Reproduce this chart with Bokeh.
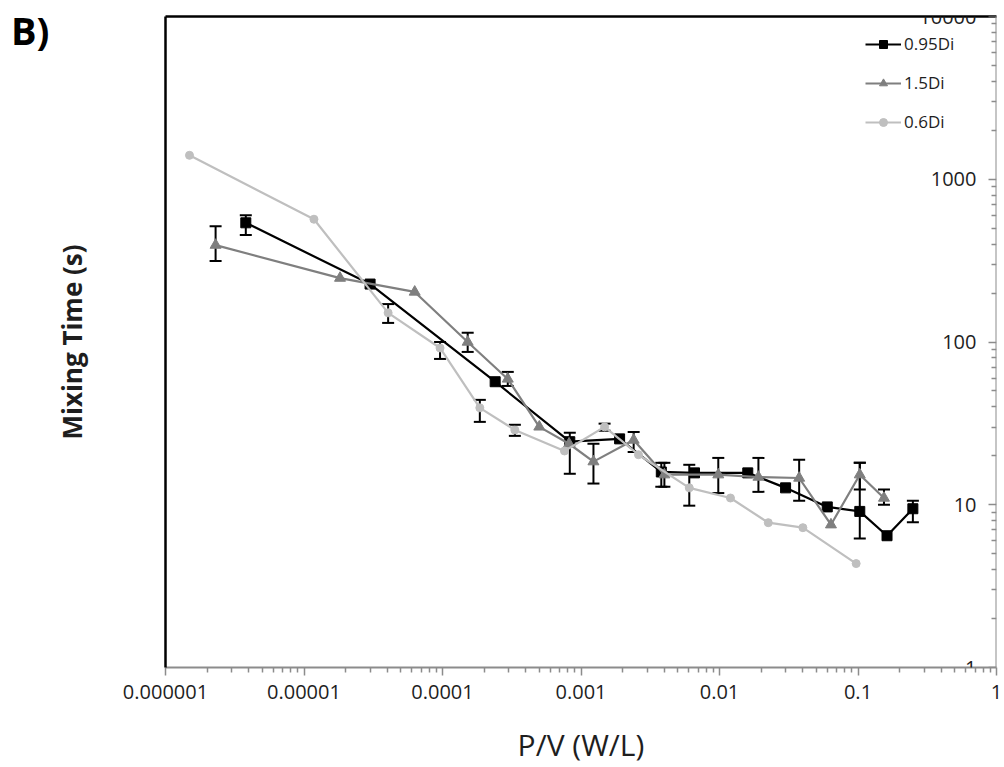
from bokeh.plotting import figure
from bokeh.models import (LogAxis, FixedTicker, CustomJSTickFormatter, ColumnDataSource,
                          Whisker, TeeHead, Legend, LegendItem, Range1d, Div)
from bokeh.layouts import row
from bokeh.embed import file_html
from bokeh.resources import INLINE

# ---------------- data ----------------
x_ticks = [1e-6, 1e-5, 1e-4, 1e-3, 1e-2, 1e-1, 1.0]
x_tick_labels = ["0.000001", "0.00001", "0.0001", "0.001", "0.01", "0.1", "1"]
y_ticks = [1, 10, 100, 1000, 10000]
y_tick_labels = ["1", "10", "100", "1000", "10000"]

series_names = ["0.95Di", "1.5Di", "0.6Di"]

x_095 = [3.8e-6, 3.0e-5, 2.4e-4, 8.3e-4, 1.9e-3, 3.8e-3, 6.6e-3, 0.016, 0.030, 0.060, 0.103, 0.162, 0.249]
y_095 = [540, 227, 57, 24.4, 25.4, 15.9, 15.7, 15.7, 12.7, 9.7, 9.1, 6.45, 9.45]
lo_095 = [455, None, None, 15.5, None, 12.9, None, None, None, None, 6.2, None, 7.8]
hi_095 = [600, None, None, 27.7, None, 18.1, None, None, None, None, 18.1, None, 10.6]

x_15 = [2.3e-6, 1.82e-5, 6.3e-5, 1.52e-4, 2.96e-4, 5.0e-4, 8.2e-4, 1.23e-3, 2.4e-3, 4.0e-3,
        9.8e-3, 0.0191, 0.0376, 0.0638, 0.103, 0.154]
y_15 = [394, 247, 203, 100, 59.3, 30.1, 23.7, 18.4, 25.0, 15.3, 15.3, 14.8, 14.6, 7.54, 15.3, 11.0]
lo_15 = [314, None, None, 86.9, 53.7, None, None, 13.5, 21.1, 12.9, 11.8, 12.0, 10.6, None, 12.4, 10.0]
hi_15 = [515, None, None, 114, 65.5, None, None, 23.7, 28.0, 18.1, 19.4, 19.4, 18.9, None, 18.1, 12.4]

x_06 = [1.49e-6, 1.18e-5, 4.05e-5, 9.6e-5, 1.86e-4, 3.33e-4, 7.6e-4, 1.48e-3, 2.6e-3, 6.05e-3,
        0.012, 0.0225, 0.040, 0.097]
y_06 = [1403, 568, 151, 91.9, 39.4, 28.8, 21.4, 30.1, 20.3, 12.7, 11.0, 7.76, 7.23, 4.35]
lo_06 = [None, None, 131, 78.7, 32.3, 26.5, None, 28.5, None, 9.87, None, None, None, None]
hi_06 = [None, None, 171, 100, 44.1, 31.0, None, 31.5, None, 17.6, None, None, None, None]

# ---------------- figure ----------------
FONT = "Open Sans"
TICK_COLOR = "#8c8c8c"
TEXT_COLOR = "#1e1e1e"
LEFT_STRIP = 50

p = figure(width=1004 - LEFT_STRIP, height=767, output_backend="svg", toolbar_location=None,
           x_axis_type="log", y_axis_type="log",
           x_range=Range1d(1e-6, 1.0), y_range=Range1d(1, 10000),
           x_axis_location=None, y_axis_location=None,
           min_border_left=163 - LEFT_STRIP, min_border_right=8, min_border_top=16, min_border_bottom=99,
           background_fill_color="white", border_fill_color="white", margin=0)
p.outline_line_color = None
p.grid.visible = False

fmt_code = """
let best = 0, bd = Infinity;
for (let i = 0; i < vals.length; i++) {
  const d = Math.abs(Math.log10(vals[i]) - Math.log10(tick));
  if (d < bd) { bd = d; best = i; }
}
return labels[best];
"""

def minor_list(majors):
    out = []
    for m in majors[:-1]:
        for k in range(2, 10):
            out.append(m * k)
    return out

# bottom x axis
xax = LogAxis(ticker=FixedTicker(ticks=x_ticks, minor_ticks=minor_list(x_ticks)),
              formatter=CustomJSTickFormatter(args=dict(vals=x_ticks, labels=x_tick_labels), code=fmt_code),
              axis_label="P/V (W/L)")
xax.axis_line_color = TICK_COLOR
xax.axis_line_width = 2
xax.major_tick_line_color = TICK_COLOR
xax.minor_tick_line_color = TICK_COLOR
xax.major_tick_line_width = 1.5
xax.minor_tick_line_width = 1.5
xax.major_tick_in = 0
xax.major_tick_out = 8
xax.minor_tick_in = 0
xax.minor_tick_out = 5
xax.major_label_standoff = 9
xax.major_label_text_font = FONT
xax.major_label_text_font_size = "20px"
xax.major_label_text_color = TEXT_COLOR
xax.axis_label_text_font = FONT
xax.axis_label_text_font_size = "30px"
xax.axis_label_text_font_style = "normal"
xax.axis_label_text_line_height = 1.0
xax.axis_label_text_color = TEXT_COLOR
xax.axis_label_standoff = 22
p.add_layout(xax, "below")

# top border line
tax = LogAxis(ticker=FixedTicker(ticks=[]))
tax.axis_line_color = "black"
tax.axis_line_width = 2.5
tax.major_tick_line_color = None
tax.minor_tick_line_color = None
tax.major_label_text_font_size = "0px"
tax.major_label_standoff = 0
p.add_layout(tax, "above")

# left border line with title
lax = LogAxis(ticker=FixedTicker(ticks=[]), axis_label="Mixing Time (s)")
lax.axis_line_color = "black"
lax.axis_line_width = 2.5
lax.major_tick_line_color = None
lax.minor_tick_line_color = None
lax.major_label_text_font_size = "0px"
lax.major_label_standoff = 0
lax.axis_label_text_font = FONT
lax.axis_label_text_font_size = "26px"
lax.axis_label_text_font_style = "bold"
lax.axis_label_text_color = TEXT_COLOR
lax.axis_label_standoff = 76
p.add_layout(lax, "left")

# y axis drawn at x = 1 (right side), ticks and labels pointing inward
yax = LogAxis(ticker=FixedTicker(ticks=y_ticks, minor_ticks=minor_list(y_ticks)),
              formatter=CustomJSTickFormatter(args=dict(vals=y_ticks, labels=y_tick_labels), code=fmt_code),
              fixed_location=1.0)
yax.axis_line_color = TICK_COLOR
yax.axis_line_width = 2
yax.major_tick_line_color = TICK_COLOR
yax.minor_tick_line_color = TICK_COLOR
yax.major_tick_line_width = 1.5
yax.minor_tick_line_width = 1.5
yax.major_tick_in = 0
yax.major_tick_out = 8
yax.minor_tick_in = 0
yax.minor_tick_out = 5
yax.major_label_standoff = 12
yax.major_label_text_font = FONT
yax.major_label_text_font_size = "20px"
yax.major_label_text_color = TEXT_COLOR
p.add_layout(yax, "left")

# ---------------- series ----------------
styles = [
    dict(color="black", marker="square", size=10),
    dict(color="#7f7f7f", marker="triangle", size=11),
    dict(color="#bfbfbf", marker="circle", size=8),
]
data = [(x_095, y_095, lo_095, hi_095), (x_15, y_15, lo_15, hi_15), (x_06, y_06, lo_06, hi_06)]

legend_items = []
for name, st, (xs, ys, los, his) in zip(series_names, styles, data):
    src = ColumnDataSource(dict(x=xs, y=ys))
    ln = p.line("x", "y", source=src, line_color=st["color"], line_width=2.2)
    sc = p.scatter("x", "y", source=src, marker=st["marker"], size=st["size"],
                   fill_color=st["color"], line_color=st["color"])
    idx = [i for i in range(len(xs)) if los[i] is not None]
    wsrc = ColumnDataSource(dict(x=[xs[i] for i in idx], lo=[los[i] for i in idx], hi=[his[i] for i in idx]))
    w = Whisker(source=wsrc, base="x", lower="lo", upper="hi", dimension="height",
                line_color="black", line_width=2,
                upper_head=TeeHead(size=12, line_color="black", line_width=2),
                lower_head=TeeHead(size=12, line_color="black", line_width=2))
    p.add_layout(w)
    legend_items.append(LegendItem(label=name, renderers=[ln, sc]))

legend = Legend(items=legend_items, location=(700, 534))
legend.border_line_color = None
legend.background_fill_alpha = 0
legend.padding = 0
legend.margin = 0
legend.glyph_width = 36
legend.glyph_height = 20
legend.label_height = 20
legend.label_standoff = 3
legend.spacing = 16
legend.label_text_font = FONT
legend.label_text_font_size = "17px"
legend.label_text_color = TEXT_COLOR
p.add_layout(legend)

# panel letter
div = Div(text="B)", width=LEFT_STRIP, height=767, margin=0,
          styles={"font-family": "Open Sans", "font-size": "38px", "font-weight": "bold",
                  "color": "black", "padding-left": "11px", "padding-top": "8px",
                  "line-height": "1.2", "box-sizing": "border-box"})

layout = row(div, p, spacing=0)

open("out.html", "w").write(file_html(layout, INLINE))
